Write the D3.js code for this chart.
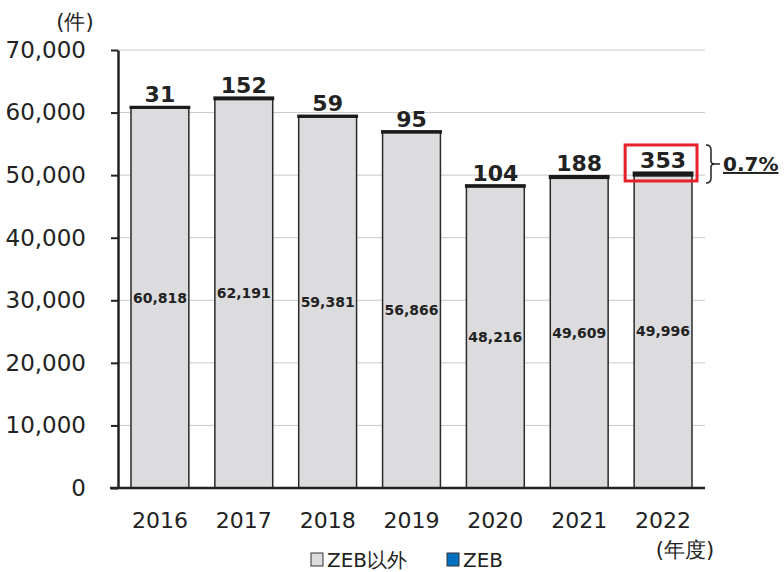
<!DOCTYPE html>
<html>
<head>
<meta charset="utf-8">
<script src="https://cdn.jsdelivr.net/npm/d3@7"></script>
<style>
  body { margin: 0; background: #fff; }
  svg text { font-family: "DejaVu Sans", Verdana, sans-serif; fill: #222; }
</style>
</head>
<body>
<div id="chart"></div>
<script>
const years = ['2016', '2017', '2018', '2019', '2020', '2021', '2022'];
const nonZeb = [60818, 62191, 59381, 56866, 48216, 49609, 49996];
const zeb = [31, 152, 59, 95, 104, 188, 353];
const yTicks = [0, 10000, 20000, 30000, 40000, 50000, 60000, 70000];

const W = 784, H = 572;
const margin = { top: 50, right: 79, bottom: 84, left: 118 };
const width = W - margin.left - margin.right;
const height = H - margin.top - margin.bottom;

const svg = d3.select('#chart').append('svg')
  .attr('width', W).attr('height', H);
const g = svg.append('g')
  .attr('transform', `translate(${margin.left}, ${margin.top})`);

const x = d3.scaleBand().domain(years).range([0, width]).paddingInner(0.31).paddingOuter(0.155);
const y = d3.scaleLinear().domain([0, 70000]).range([height, 0]);

// gridlines
g.selectAll('.grid').data(yTicks.slice(1)).enter().append('line')
  .attr('x1', 0).attr('x2', width)
  .attr('y1', d => y(d)).attr('y2', d => y(d))
  .attr('stroke', '#c8c8c8').attr('stroke-width', 1);

// y axis
const yAxis = g.append('g')
  .call(d3.axisLeft(y).tickValues(yTicks).tickFormat(d3.format(',')).tickSize(7).tickSizeOuter(0));
yAxis.select('.domain').attr('stroke', '#222').attr('stroke-width', 2.5);
yAxis.selectAll('.tick line').attr('stroke', '#222').attr('stroke-width', 2);
yAxis.selectAll('.tick text').attr('x', -32).style('font-size', '23px').style('font-family', '"DejaVu Sans", Verdana, sans-serif').attr('fill', '#222');

const rows = years.map((yr, i) => ({ year: yr, a: nonZeb[i], b: zeb[i] }));

// non-ZEB bars
g.selectAll('.bar').data(rows).enter().append('rect')
  .attr('x', d => x(d.year))
  .attr('y', d => y(d.a))
  .attr('width', x.bandwidth())
  .attr('height', d => y(0) - y(d.a))
  .attr('fill', '#dcdcde')
  .attr('stroke', '#2a2a2a').attr('stroke-width', 1.5);

// ZEB bars stacked on top
g.selectAll('.zeb').data(rows).enter().append('rect')
  .attr('x', d => x(d.year))
  .attr('y', d => y(d.a + d.b))
  .attr('width', x.bandwidth())
  .attr('height', d => y(d.a) - y(d.a + d.b))
  .attr('fill', '#0070c0')
  .attr('stroke', '#1a1a1a').attr('stroke-width', 3);

// x axis
const xAxis = g.append('g')
  .attr('transform', `translate(0, ${height})`)
  .call(d3.axisBottom(x).tickSize(0).tickPadding(24));
xAxis.select('.domain').attr('stroke', '#222').attr('stroke-width', 2.5).attr('d', `M-8,0H${width}`);
xAxis.selectAll('.tick text').style('font-size', '22px').style('font-family', '"DejaVu Sans", Verdana, sans-serif').attr('fill', '#222');

// labels inside bars
g.selectAll('.inlab').data(rows).enter().append('text')
  .attr('x', d => x(d.year) + x.bandwidth() / 2)
  .attr('y', d => (y(d.a) + y(0)) / 2)
  .attr('dy', '0.35em')
  .attr('text-anchor', 'middle')
  .style('font-size', '14px').style('font-weight', 'bold')
  .text(d => d3.format(',')(d.a));

// ZEB labels on top
g.selectAll('.toplab').data(rows).enter().append('text')
  .attr('x', d => x(d.year) + x.bandwidth() / 2)
  .attr('y', d => y(d.a + d.b) - 5)
  .attr('text-anchor', 'middle')
  .style('font-size', '22px').style('font-weight', 'bold')
  .text(d => d.b);

// highlight box for last year
const last = rows[rows.length - 1];
const lx = x(last.year), lTop = y(last.a + last.b);
g.append('rect')
  .attr('x', lx - 9).attr('y', lTop - 28)
  .attr('width', x.bandwidth() + 14).attr('height', 36)
  .attr('fill', 'none').attr('stroke', '#e8202a').attr('stroke-width', 3);

// brace and share
const bx = lx + x.bandwidth() + 14, by0 = lTop - 28, by1 = lTop + 10, bm = (by0 + by1) / 2;
g.append('path')
  .attr('d', `M${bx},${by0} q5,0 5,5 V${bm - 3} q0,3 4,3 q-4,0 -4,3 V${by1 - 5} q0,5 -5,5`)
  .attr('fill', 'none').attr('stroke', '#222').attr('stroke-width', 1.5);
g.append('line')
  .attr('x1', bx + 9).attr('x2', bx + 14).attr('y1', bm).attr('y2', bm)
  .attr('stroke', '#222').attr('stroke-width', 1.5);
const share = d3.format('.1%')(last.b / (last.a + last.b));
g.append('text')
  .attr('x', bx + 17).attr('y', bm + 7)
  .style('font-size', '20px').style('font-weight', 'bold')
  .style('text-decoration', 'underline')
  .text(share);

// unit labels
svg.append('text').attr('x', 75).attr('y', 29).attr('text-anchor', 'middle')
  .style('font-size', '21px').text('(件)');
svg.append('text').attr('x', 685).attr('y', 557).attr('text-anchor', 'middle')
  .style('font-size', '21px').text('(年度)');

// legend
const legend = svg.append('g').attr('transform', 'translate(311, 560)');
const items = [{ label: 'ZEB以外', fill: '#dcdcde' }, { label: 'ZEB', fill: '#0070c0' }];
items.forEach((it, i) => {
  const lg = legend.append('g').attr('transform', `translate(${i * 136}, 0)`);
  lg.append('rect').attr('x', 0).attr('y', -7).attr('width', 12).attr('height', 13)
    .attr('fill', it.fill).attr('stroke', '#333').attr('stroke-width', 1);
  lg.append('text').attr('x', 16).attr('y', 0).attr('dy', '0.35em')
    .style('font-size', '20px').text(it.label);
});
</script>
</body>
</html>
